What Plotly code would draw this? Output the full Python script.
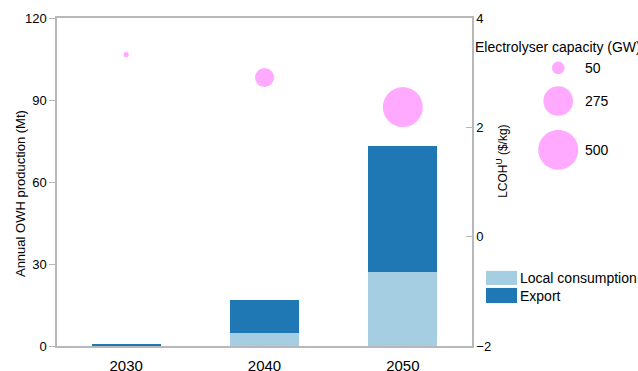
import plotly.graph_objects as go

# Datos
years = ['2030', '2040', '2050']
local_mt = [0.1, 4.9, 27.0]
export_mt = [0.6, 12.0, 46.2]
lcoh = [3.33, 2.91, 2.37]
capacity_gw = [8, 113, 500]

legend_sizes = [50, 275, 500]
legend_labels = ['50', '275', '500']

light_blue = '#a6cee3'
dark_blue = '#1f78b4'
pink = '#ff85ff'
axis_grey = '#b8b8b8'
font_family = 'Liberation Sans, Arial, sans-serif'

# escala de burbujas por area: 500 GW -> 40 px de diametro
sizeref = 2.0 * max(capacity_gw) / 40 ** 2

fig = go.Figure()

fig.add_trace(go.Bar(x=years, y=local_mt, name='Local consumption',
                     marker_color=light_blue, marker_line_width=0, width=0.5))
fig.add_trace(go.Bar(x=years, y=export_mt, name='Export',
                     marker_color=dark_blue, marker_line_width=0, width=0.5))

fig.add_trace(go.Scatter(x=years, y=lcoh, yaxis='y2', mode='markers',
                         marker=dict(size=capacity_gw, sizemode='area', sizeref=sizeref,
                                     color=pink, line_width=0),
                         showlegend=False))

# leyenda de burbujas en ejes ocultos
leg_y = [0.848, 0.747, 0.598]
fig.add_trace(go.Scatter(x=[0.53] * 3, y=leg_y, xaxis='x3', yaxis='y3', mode='markers',
                         marker=dict(size=legend_sizes, sizemode='area', sizeref=sizeref,
                                     color=pink, line_width=0),
                         showlegend=False, hoverinfo='skip'))

for lab, yy in zip(legend_labels, leg_y):
    fig.add_annotation(x=0.922, y=yy, xref='paper', yref='paper', text=lab,
                       showarrow=False, xanchor='left', yanchor='middle',
                       font=dict(size=14))

fig.add_annotation(x=0.728, y=0.912, xref='paper', yref='paper',
                   text='Electrolyser capacity (GW)', showarrow=False,
                   xanchor='left', yanchor='middle', font=dict(size=14))

# leyenda de barras
for name, col, y0, y1, ty in [('Local consumption', light_blue, 0.186, 0.229, 0.207),
                              ('Export', dark_blue, 0.131, 0.177, 0.152)]:
    fig.add_shape(type='rect', xref='paper', yref='paper', x0=0.7513, x1=0.8056,
                  y0=y0, y1=y1, fillcolor=col, line_width=0)
    fig.add_annotation(x=0.807, y=ty, xref='paper', yref='paper', text=name,
                       showarrow=False, xanchor='left', yanchor='middle',
                       font=dict(size=14))

# titulos de ejes
fig.add_annotation(x=-0.065, y=0.466, xref='paper', yref='paper',
                   text='Annual OWH production (Mt)', textangle=-90,
                   xanchor='center', yanchor='middle',
                   showarrow=False, font=dict(size=13))
fig.add_annotation(x=0.779, y=0.564, xref='paper', yref='paper',
                   text='LCOH<sup>U</sup> ($/kg)', textangle=-90,
                   xanchor='center', yanchor='middle',
                   showarrow=False, font=dict(size=12))

fig.update_layout(
    width=638, height=371,
    margin=dict(l=57, r=10, t=18, b=25),
    barmode='stack',
    bargap=0.5,
    showlegend=False,
    plot_bgcolor='white',
    paper_bgcolor='white',
    font=dict(family=font_family, size=13, color='black'),
    xaxis=dict(domain=[0, 0.7268], showline=True, linecolor=axis_grey, linewidth=1.5,
               mirror=True, ticks='', ticklabelstandoff=5, tickfont=dict(size=15),
               showgrid=False, automargin=False),
    yaxis=dict(range=[0, 120], tickvals=[0, 30, 60, 90, 120], showline=True,
               linecolor=axis_grey, linewidth=1.5, ticks='outside', ticklen=6,
               tickcolor=axis_grey, showgrid=False, zeroline=False,
               tickfont=dict(size=13), automargin=False),
    yaxis2=dict(range=[-2, 4], tickvals=[-2, 0, 2, 4], ticktext=['\u22122', '0', '2', '4'],
                overlaying='y', side='right', anchor='x', showline=True,
                linecolor=axis_grey, linewidth=1.5, ticks='inside', ticklen=6,
                tickcolor=axis_grey, showgrid=False, zeroline=False,
                tickfont=dict(size=13), automargin=False),
    xaxis3=dict(domain=[0.74, 1], range=[0, 1], visible=False, anchor='y3',
                automargin=False),
    yaxis3=dict(domain=[0, 1], range=[0, 1], visible=False, anchor='x3',
                automargin=False),
)

# quitar el margen de 8 px del body para que la figura llene la ventana
fig.write_html('out.html', config={'displayModeBar': False},
               post_script="document.body.style.margin='0px';")
